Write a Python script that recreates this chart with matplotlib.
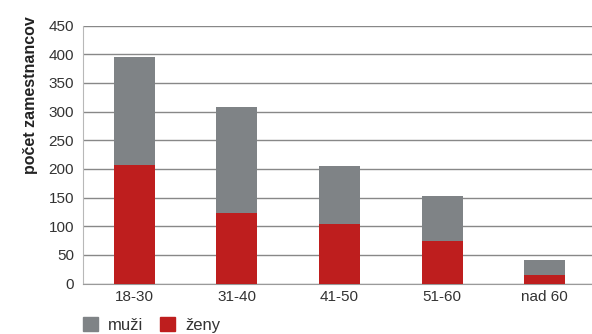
import matplotlib.pyplot as plt
from matplotlib.patches import Patch

plt.rcParams['font.family'] = ['Liberation Sans', 'DejaVu Sans']

categories = ["18-30", "31-40", "41-50", "51-60", "nad 60"]
zeny = [207, 123, 104, 74, 15]
muzi = [188, 185, 101, 79, 26]

GRAY = "#7f8386"
RED = "#be1e1e"


def main():
    fig = plt.figure(figsize=(5.92, 3.34), dpi=100)
    ax = fig.add_axes([83 / 592, 50.5 / 334, 513 / 592, 258 / 334])

    x = range(len(categories))
    ax.bar(x, zeny, width=0.4, color=RED, zorder=3)
    ax.bar(x, muzi, width=0.4, bottom=zeny, color=GRAY, zorder=3)

    ax.set_xlim(-0.5, 4.5)
    ax.set_ylim(0, 450)
    ax.set_yticks(range(0, 451, 50))
    ax.set_xticks(list(x))
    ax.set_xticklabels(categories)
    ax.yaxis.grid(True, color="#888888", linewidth=1)
    ax.set_axisbelow(True)

    for s in ["top", "right"]:
        ax.spines[s].set_visible(False)
    ax.spines["left"].set_color("#b8b8b8")
    ax.spines["bottom"].set_color("#9a9a9a")
    ax.tick_params(length=0, labelsize=11, colors="#333333")
    ax.tick_params(axis="y", pad=6.5)
    ax.tick_params(axis="x", pad=5)
    ax.set_ylabel("počet zamestnancov", fontsize=11.5, fontweight="bold", color="#222222")
    ax.yaxis.set_label_coords(-0.088, 0.731)

    # legend squares ~15 px
    handles = [Patch(color=GRAY, label="muži"), Patch(color=RED, label="ženy")]
    fig.legend(handles=handles, loc="lower left", bbox_to_anchor=(83 / 592, 1 / 334),
               ncol=2, frameon=False, fontsize=12, handlelength=0.9, handleheight=0.9,
               handletextpad=0.6, columnspacing=1.0, borderpad=0, borderaxespad=0,
               labelcolor="#333333")

    fig.savefig("out.png", dpi=100)


if __name__ == "__main__":
    main()
